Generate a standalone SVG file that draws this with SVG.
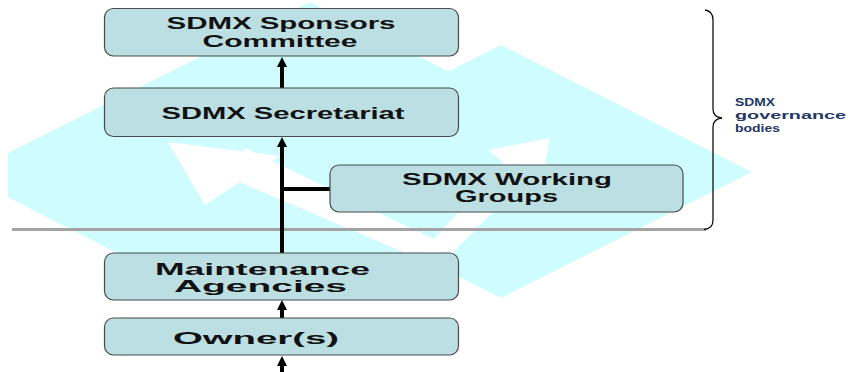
<svg xmlns="http://www.w3.org/2000/svg" width="848" height="372" viewBox="0 0 848 372">
  <defs>
    <style>
      .wm { fill: #cffcfe; }
      .wmw { fill: #ffffff; }
      .box { fill: #bbdfe2; stroke: #4a4a4a; stroke-width: 1.2; }
      .lbl { font-family: "Liberation Sans", Arial, sans-serif; font-weight: bold; font-size: 16px; fill: #111111; text-anchor: middle; }
      .gov { font-family: "Liberation Sans", Arial, sans-serif; font-weight: bold; font-size: 11px; fill: #1f3864; }
      .conn { stroke: #000000; stroke-width: 4; fill: none; }
      .sep { stroke: #a3a3a3; stroke-width: 3; fill: none; }
      .brace { stroke: #111111; stroke-width: 1.3; fill: none; }
    </style>
    <marker id="ah" viewBox="0 0 10 10" refX="4" refY="5" markerWidth="10" markerHeight="10" markerUnits="userSpaceOnUse" orient="auto">
      <path d="M0,0 L10,5 L0,10 z" fill="#000000"/>
    </marker>
  </defs>

  <rect x="0" y="0" width="848" height="372" fill="#ffffff"/>

  <g id="watermark">
    <polygon class="wm" points="8,153 310,2 560,127 420,260 160,275 8,197"/>
    <polygon class="wm" points="501,45 752,172 501,298 250,172"/>
    <polygon class="wmw" points="168,142 280,156 205,205"/>
    <polygon class="wmw" points="245,148 448,246 436,266 225,176"/>
    <polygon class="wmw" points="424,250 444,262 532,172 508,158"/>
    <polygon class="wmw" points="550,138 488,150 540,192"/>
  </g>

  <path id="separator" class="sep" d="M12,229.5 L706,229.5"/>

  <g id="brace">
    <path class="brace" d="M705,10 Q713,11 713,20 L713,109 Q713,117 722,118 Q713,119 713,127 L713,220 Q713,229 704,229.5"/>
  </g>

  <g id="connectors">
    <line class="conn" x1="282" y1="88" x2="282" y2="63" marker-end="url(#ah)"/>
    <line class="conn" x1="282" y1="253" x2="282" y2="143" marker-end="url(#ah)"/>
    <line class="conn" x1="330" y1="189" x2="282" y2="189"/>
    <line class="conn" x1="282" y1="318" x2="282" y2="306" marker-end="url(#ah)"/>
    <line class="conn" x1="282" y1="372" x2="282" y2="362" marker-end="url(#ah)"/>
  </g>

  <g id="node-sponsors">
    <rect class="box" x="104.5" y="8.5" width="354" height="47.5" rx="9"/>
    <text class="lbl" x="281" y="28.5" textLength="229" lengthAdjust="spacingAndGlyphs">SDMX Sponsors</text>
    <text class="lbl" x="280" y="47" textLength="155" lengthAdjust="spacingAndGlyphs">Committee</text>
  </g>

  <g id="node-secretariat">
    <rect class="box" x="104.5" y="88" width="354" height="48.5" rx="9"/>
    <text class="lbl" x="283" y="119" font-size="17" textLength="243" lengthAdjust="spacingAndGlyphs">SDMX Secretariat</text>
  </g>

  <g id="node-working-groups">
    <rect class="box" x="330" y="165" width="353" height="47" rx="9"/>
    <text class="lbl" x="507" y="185" textLength="210" lengthAdjust="spacingAndGlyphs">SDMX Working</text>
    <text class="lbl" x="506.5" y="202" textLength="103" lengthAdjust="spacingAndGlyphs">Groups</text>
  </g>

  <g id="node-maintenance">
    <rect class="box" x="104.5" y="253" width="354" height="47" rx="9"/>
    <text class="lbl" x="262.5" y="275" textLength="215" lengthAdjust="spacingAndGlyphs">Maintenance</text>
    <text class="lbl" x="260.5" y="292" textLength="173" lengthAdjust="spacingAndGlyphs">Agencies</text>
  </g>

  <g id="node-owners">
    <rect class="box" x="104.5" y="318" width="354" height="37" rx="9"/>
    <text class="lbl" x="256" y="344" font-size="17" textLength="166" lengthAdjust="spacingAndGlyphs">Owner(s)</text>
  </g>

  <g id="label-governance">
    <text class="gov" x="735" y="106" textLength="40" lengthAdjust="spacingAndGlyphs">SDMX</text>
    <text class="gov" x="735" y="119" textLength="111" lengthAdjust="spacingAndGlyphs">governance</text>
    <text class="gov" x="735" y="132" textLength="45" lengthAdjust="spacingAndGlyphs">bodies</text>
  </g>
</svg>
